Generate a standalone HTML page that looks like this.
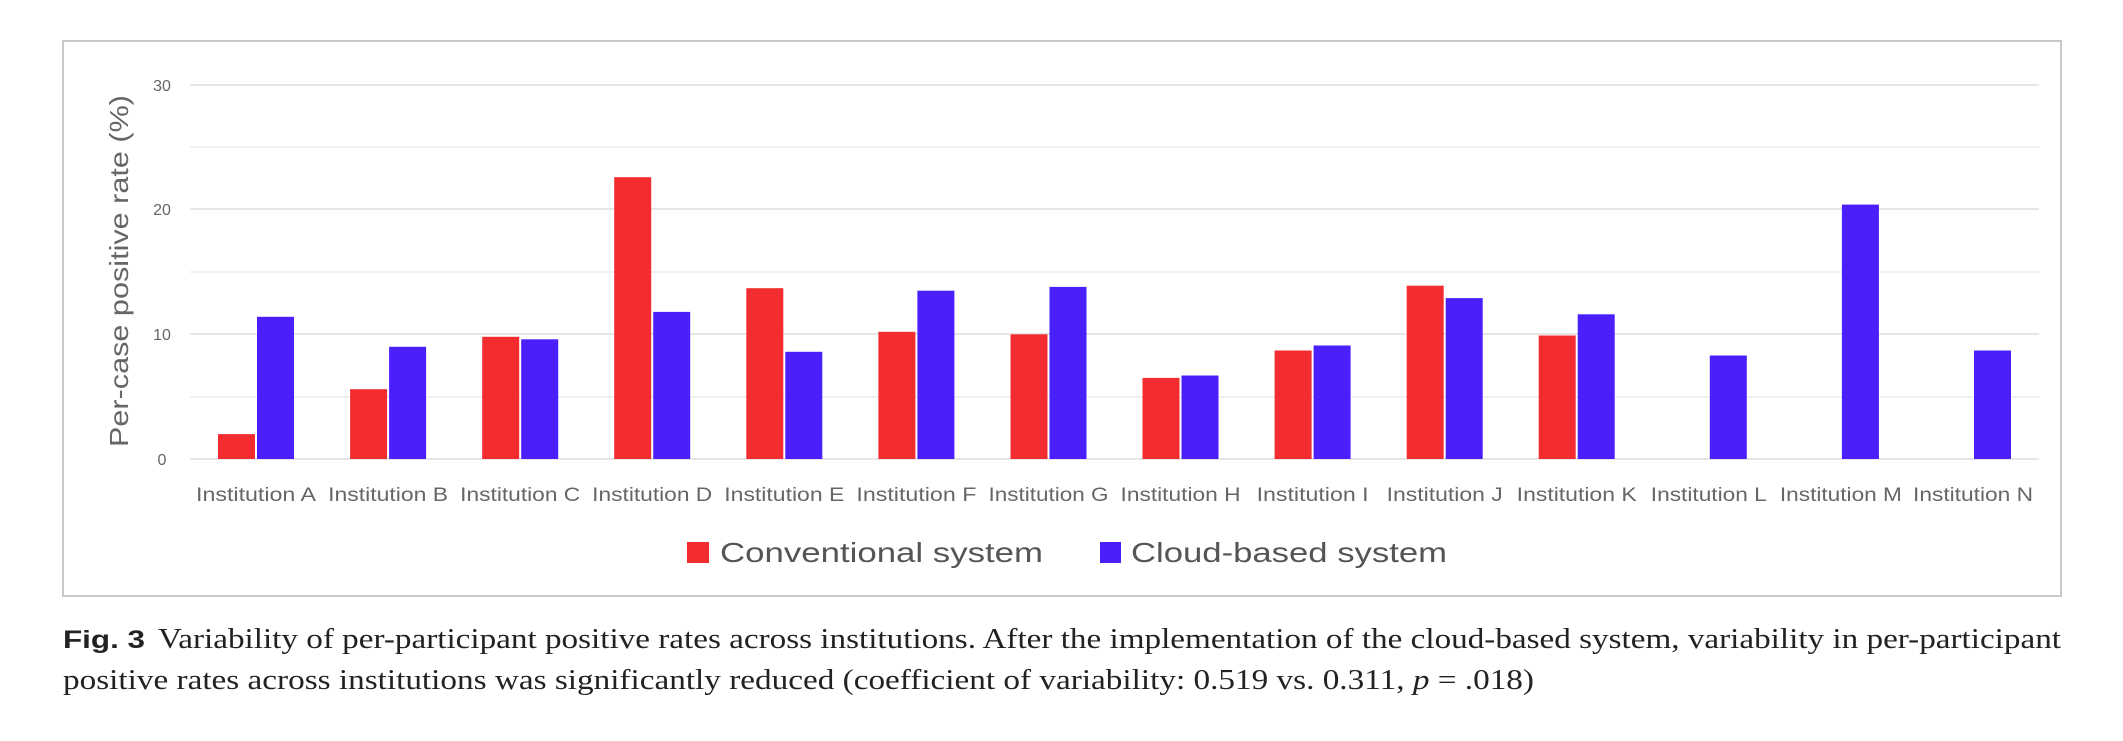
<!DOCTYPE html>
<html><head><meta charset="utf-8"><style>html,body{margin:0;padding:0;background:#fff}svg{display:block}</style></head><body>
<svg width="2123" height="741" viewBox="0 0 2123 741" xmlns="http://www.w3.org/2000/svg">
<rect x="63" y="41" width="1998" height="555" fill="#fff" stroke="#c8c8c8" stroke-width="2"/>
<g stroke="#e6e6e6" stroke-width="2">
<line x1="190" x2="2039" y1="85" y2="85"/><line x1="190" x2="2039" y1="147" y2="147" stroke="#f0f0f0"/>
<line x1="190" x2="2039" y1="209" y2="209"/><line x1="190" x2="2039" y1="272" y2="272" stroke="#f0f0f0"/>
<line x1="190" x2="2039" y1="334" y2="334"/><line x1="190" x2="2039" y1="397" y2="397" stroke="#f0f0f0"/>
<line x1="190" x2="2039" y1="459" y2="459"/>
</g>
<g font-family="Liberation Sans, sans-serif" font-size="16" fill="#666" text-anchor="middle">
<text x="162" y="91">30</text><text x="162" y="215">20</text><text x="162" y="340">10</text><text x="162" y="465">0</text>
</g>
<text transform="translate(128,271) rotate(-90)" font-family="Liberation Sans, sans-serif" font-size="26" fill="#666" text-anchor="middle" textLength="352" lengthAdjust="spacingAndGlyphs">Per-case positive rate (%)</text>
<g fill="#f22c2f">
<rect x="218" y="434.1" width="37" height="24.9"/>
<rect x="350.1" y="389.2" width="37" height="69.8"/>
<rect x="482.2" y="336.8" width="37" height="122.2"/>
<rect x="614.2" y="177.2" width="37" height="281.8"/>
<rect x="746.3" y="288.2" width="37" height="170.8"/>
<rect x="878.4" y="331.8" width="37" height="127.2"/>
<rect x="1010.5" y="334.3" width="37" height="124.7"/>
<rect x="1142.5" y="377.9" width="37" height="81.1"/>
<rect x="1274.6" y="350.5" width="37" height="108.5"/>
<rect x="1406.7" y="285.7" width="37" height="173.3"/>
<rect x="1538.7" y="335.5" width="37" height="123.5"/>
</g>
<g fill="#4a1ffc">
<rect x="257" y="316.8" width="37" height="142.2"/>
<rect x="389.1" y="346.8" width="37" height="112.2"/>
<rect x="521.2" y="339.3" width="37" height="119.7"/>
<rect x="653.2" y="311.9" width="37" height="147.1"/>
<rect x="785.3" y="351.8" width="37" height="107.2"/>
<rect x="917.4" y="290.7" width="37" height="168.3"/>
<rect x="1049.5" y="286.9" width="37" height="172.1"/>
<rect x="1181.5" y="375.5" width="37" height="83.5"/>
<rect x="1313.6" y="345.5" width="37" height="113.5"/>
<rect x="1445.7" y="298.1" width="37" height="160.9"/>
<rect x="1577.7" y="314.3" width="37" height="144.7"/>
<rect x="1709.8" y="355.5" width="37" height="103.5"/>
<rect x="1841.9" y="204.6" width="37" height="254.4"/>
<rect x="1974" y="350.5" width="37" height="108.5"/>
</g>
<g font-family="Liberation Sans, sans-serif" font-size="19" fill="#666" text-anchor="middle">
<text x="256" y="501" textLength="120" lengthAdjust="spacingAndGlyphs">Institution A</text>
<text x="388.1" y="501" textLength="120" lengthAdjust="spacingAndGlyphs">Institution B</text>
<text x="520.2" y="501" textLength="120" lengthAdjust="spacingAndGlyphs">Institution C</text>
<text x="652.2" y="501" textLength="120" lengthAdjust="spacingAndGlyphs">Institution D</text>
<text x="784.3" y="501" textLength="120" lengthAdjust="spacingAndGlyphs">Institution E</text>
<text x="916.4" y="501" textLength="120" lengthAdjust="spacingAndGlyphs">Institution F</text>
<text x="1048.5" y="501" textLength="120" lengthAdjust="spacingAndGlyphs">Institution G</text>
<text x="1180.5" y="501" textLength="120" lengthAdjust="spacingAndGlyphs">Institution H</text>
<text x="1312.6" y="501" textLength="112" lengthAdjust="spacingAndGlyphs">Institution I</text>
<text x="1444.7" y="501" textLength="116" lengthAdjust="spacingAndGlyphs">Institution J</text>
<text x="1576.7" y="501" textLength="120" lengthAdjust="spacingAndGlyphs">Institution K</text>
<text x="1708.8" y="501" textLength="116" lengthAdjust="spacingAndGlyphs">Institution L</text>
<text x="1840.9" y="501" textLength="122" lengthAdjust="spacingAndGlyphs">Institution M</text>
<text x="1973" y="501" textLength="120" lengthAdjust="spacingAndGlyphs">Institution N</text>
</g>
<rect x="687" y="542" width="22" height="21" fill="#f22c2f"/>
<text x="720" y="562" font-family="Liberation Sans, sans-serif" font-size="28" fill="#555" textLength="323" lengthAdjust="spacingAndGlyphs">Conventional system</text>
<rect x="1100" y="542" width="21" height="21" fill="#4a1ffc"/>
<text x="1131" y="562" font-family="Liberation Sans, sans-serif" font-size="28" fill="#555" textLength="316" lengthAdjust="spacingAndGlyphs">Cloud-based system</text>
<text x="63" y="648" font-family="Liberation Sans, sans-serif" font-weight="bold" font-size="25" fill="#222" textLength="82" lengthAdjust="spacingAndGlyphs">Fig. 3</text>
<text x="158" y="648" font-family="Liberation Serif, serif" font-size="29" fill="#222" textLength="1903" lengthAdjust="spacingAndGlyphs">Variability of per-participant positive rates across institutions. After the implementation of the cloud-based system, variability in per-participant</text>
<text x="63" y="689" font-family="Liberation Serif, serif" font-size="29" fill="#222" textLength="1471" lengthAdjust="spacingAndGlyphs">positive rates across institutions was significantly reduced (coefficient of variability: 0.519 vs. 0.311, <tspan font-style="italic">p</tspan> = .018)</text>
</svg>
</body></html>
